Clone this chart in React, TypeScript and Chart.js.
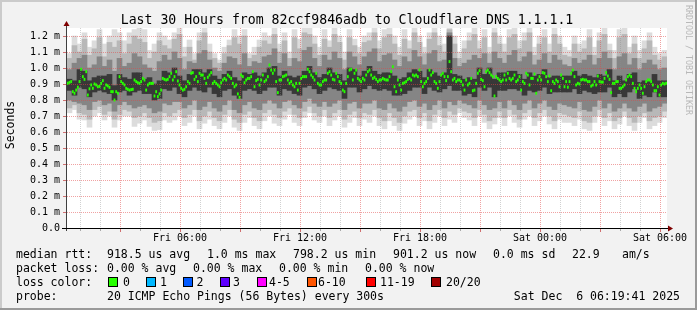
import React, { useEffect, useRef } from "react";
import { Chart, registerables } from "chart.js";

Chart.register(...registerables);

// ---------- texts ----------
const TITLE = "Last 30 Hours from 82ccf9846adb to Cloudflare DNS 1.1.1.1";
const Y_TITLE = "Seconds";
const WATERMARK = "RRDTOOL / TOBI OETIKER";

// ---------- time axis (hours from Fri 00:00) ----------
const START_HOUR = 0.35;
const END_HOUR = 30.35;
const SMOKE_STEP_HOURS = 0.25; // one smoke column per 15 minutes
const MEDIAN_STEP_HOURS = 1 / 12; // one median sample per 5 minutes (300 s)

const xTickHours = [6, 12, 18, 24, 30];
const xTickLabels = ["Fri 06:00", "Fri 12:00", "Fri 18:00", "Sat 00:00", "Sat 06:00"];

const Y_MAX = 1.25;
const yTickValues = [0, 0.1, 0.2, 0.3, 0.4, 0.5, 0.6, 0.7, 0.8, 0.9, 1.0, 1.1, 1.2];
const yTickLabels = ["0.0", "0.1 m", "0.2 m", "0.3 m", "0.4 m", "0.5 m", "0.6 m", "0.7 m", "0.8 m", "0.9 m", "1.0 m", "1.1 m", "1.2 m"];

// ---------- median rtt (ms), one value per 5-minute step ----------
const medianRtt = [
  0.904, 0.910, 0.915, 0.852, 0.842, 0.862, 0.880, 0.915, 0.992, 0.946,
  0.929, 0.977, 0.831, 0.870, 0.894, 0.873, 0.900, 0.894, 0.883, 0.885,
  0.904, 0.921, 0.873, 0.894, 0.888, 0.879, 0.852, 0.852, 0.800, 0.852,
  0.842, 0.946, 0.915, 0.904, 0.894, 0.873, 0.867, 0.862, 0.865, 0.867,
  0.925, 0.915, 0.908, 0.904, 0.915, 0.935, 0.925, 0.862, 0.894, 0.904,
  0.904, 0.904, 0.825, 0.852, 0.821, 0.838, 0.862, 0.935, 0.929, 0.925,
  0.929, 0.946, 0.967, 0.925, 0.946, 0.977, 0.919, 0.894, 0.873, 0.862,
  0.867, 0.883, 0.915, 0.904, 0.967, 0.971, 0.929, 0.946, 0.915, 0.967,
  0.956, 0.956, 0.935, 0.904, 0.942, 0.956, 0.971, 0.904, 0.915, 0.904,
  0.894, 0.883, 0.908, 0.925, 0.935, 0.925, 0.956, 0.946, 0.935, 0.904,
  0.883, 0.894, 0.838, 0.817, 0.956, 0.946, 0.908, 0.925, 0.935, 0.935,
  0.946, 0.977, 0.883, 0.921, 0.929, 0.894, 0.925, 0.956, 0.915, 0.925,
  0.946, 1.019, 0.987, 0.967, 0.987, 0.915, 0.846, 0.925, 0.925, 0.946,
  0.950, 0.956, 0.925, 0.904, 0.915, 0.894, 0.883, 0.904, 0.862, 0.904,
  0.935, 0.946, 0.946, 0.946, 0.992, 0.977, 0.956, 0.942, 0.925, 0.967,
  0.904, 0.894, 0.894, 0.915, 0.925, 0.925, 0.967, 0.977, 0.956, 0.929,
  0.925, 0.967, 0.946, 0.915, 0.904, 0.862, 0.852, 0.904, 0.946, 0.987,
  0.992, 0.925, 0.967, 0.987, 0.935, 0.925, 0.915, 0.935, 0.925, 0.956,
  0.977, 0.987, 0.956, 0.935, 0.942, 0.929, 0.915, 0.925, 0.925, 0.935,
  0.929, 0.925, 0.925, 0.946, 0.977, 1.008, 0.883, 0.852, 0.925, 0.894,
  0.862, 0.904, 0.908, 0.915, 0.929, 0.935, 0.925, 0.956, 0.950, 0.956,
  0.946, 0.987, 0.915, 0.883, 0.904, 0.915, 0.935, 0.987, 0.956, 0.971,
  0.915, 0.904, 0.873, 0.915, 0.956, 0.967, 0.946, 0.921, 0.946, 1.040,
  0.977, 0.925, 0.935, 0.915, 0.925, 0.925, 0.915, 0.894, 0.862, 0.925,
  0.894, 0.904, 0.935, 0.858, 0.862, 0.904, 0.967, 0.983, 0.929, 0.921,
  0.883, 0.977, 0.987, 0.971, 0.956, 0.946, 0.825, 0.946, 0.935, 0.925,
  0.915, 0.925, 0.956, 0.925, 0.967, 0.935, 0.925, 0.935, 0.956, 0.915,
  0.925, 0.946, 0.862, 0.915, 0.904, 0.967, 0.956, 0.894, 0.935, 0.935,
  0.962, 0.842, 0.925, 0.946, 0.925, 0.971, 0.967, 0.946, 0.915, 0.950,
  0.858, 0.915, 0.904, 0.925, 0.915, 0.883, 0.956, 0.935, 0.883, 0.915,
  0.880, 0.915, 0.967, 0.987, 0.946, 0.894, 0.904, 0.900, 0.925, 0.929,
  0.925, 0.925, 0.915, 0.915, 0.887, 0.894, 0.915, 0.894, 0.950, 0.915,
  0.912, 0.912, 0.935, 0.971, 0.950, 0.929, 0.846, 0.904, 0.904, 0.915,
  0.915, 0.873, 0.873, 0.883, 0.894, 0.925, 0.946, 0.956, 0.946, 0.904,
  0.873, 0.852, 0.873, 0.894, 0.873, 0.842, 0.883, 0.915, 0.925, 0.925,
  0.915, 0.894, 0.858, 0.858, 0.883, 0.831, 0.894, 0.904, 0.900, 0.904,
];

// ---------- smoke (ms), one value per 15-minute column ----------
const pingMax = [
  1.09, 1.20, 1.15, 1.22, 1.13, 1.17, 1.24, 1.15, 1.20, 1.24,
  1.22, 1.17, 1.22, 1.24, 1.26, 1.24, 1.11, 1.15, 1.22, 1.20,
  1.175, 1.22, 1.26, 1.13, 1.175, 1.09, 1.22, 1.26, 1.15, 1.09,
  1.05, 1.13, 1.175, 1.24, 1.20, 1.24, 1.09, 1.13, 1.175, 1.22,
  1.20, 1.26, 1.15, 1.22, 1.10, 1.24, 1.18, 1.26, 1.26, 1.20,
  1.13, 1.24, 1.17, 1.26, 1.20, 1.10, 1.24, 1.18, 1.13, 1.20,
  1.22, 1.26, 1.17, 1.24, 1.26, 1.20, 1.13, 1.24, 1.17, 1.26,
  1.20, 1.13, 1.22, 1.26, 1.20, 1.15, 1.26, 1.20, 1.10, 1.17,
  1.22, 1.26, 1.17, 1.24, 1.13, 1.26, 1.20, 1.15, 1.24, 1.26,
  1.17, 1.22, 1.26, 1.13, 1.20, 1.24, 1.15, 1.26, 1.20, 1.13,
  1.11, 1.20, 1.15, 1.17, 1.24, 1.13, 1.22, 1.26, 1.15, 1.11,
  1.24, 1.26, 1.13, 1.20, 1.11, 1.17, 1.22, 1.13, 1.09, 1.11,
];

const pingMin = [
  0.72, 0.74, 0.68, 0.675, 0.63, 0.70, 0.72, 0.675, 0.70, 0.63,
  0.675, 0.70, 0.70, 0.635, 0.655, 0.675, 0.635, 0.61, 0.615, 0.675,
  0.66, 0.675, 0.70, 0.64, 0.66, 0.70, 0.62, 0.655, 0.68, 0.64,
  0.62, 0.66, 0.70, 0.63, 0.61, 0.66, 0.69, 0.64, 0.62, 0.67,
  0.70, 0.655, 0.64, 0.68, 0.71, 0.66, 0.64, 0.69, 0.72, 0.675,
  0.66, 0.70, 0.64, 0.675, 0.70, 0.63, 0.66, 0.69, 0.64, 0.68,
  0.66, 0.70, 0.64, 0.62, 0.67, 0.64, 0.61, 0.655, 0.68, 0.70,
  0.64, 0.67, 0.62, 0.66, 0.70, 0.64, 0.68, 0.66, 0.72, 0.69,
  0.675, 0.64, 0.70, 0.66, 0.62, 0.65, 0.69, 0.64, 0.70, 0.66,
  0.63, 0.68, 0.70, 0.64, 0.67, 0.70, 0.65, 0.62, 0.68, 0.66,
  0.66, 0.64, 0.68, 0.62, 0.61, 0.66, 0.70, 0.64, 0.67, 0.62,
  0.65, 0.70, 0.64, 0.61, 0.66, 0.69, 0.62, 0.64, 0.66, 0.69,
];

const outerHi = [
  1.06, 1.14, 1.10, 1.18, 1.08, 1.12, 1.19, 1.07, 1.16, 1.13,
  1.17, 1.09, 1.15, 1.20, 1.18, 1.16, 1.06, 1.10, 1.17, 1.14,
  1.12, 1.18, 1.21, 1.07, 1.13, 1.05, 1.17, 1.22, 1.10, 1.06,
  1.03, 1.09, 1.14, 1.19, 1.15, 1.20, 1.06, 1.08, 1.13, 1.17,
  1.15, 1.21, 1.10, 1.17, 1.06, 1.19, 1.12, 1.22, 1.21, 1.15,
  1.08, 1.18, 1.13, 1.21, 1.16, 1.05, 1.19, 1.14, 1.09, 1.16,
  1.17, 1.22, 1.12, 1.19, 1.21, 1.15, 1.08, 1.18, 1.12, 1.22,
  1.16, 1.09, 1.18, 1.22, 1.14, 1.10, 1.24, 1.15, 1.06, 1.12,
  1.17, 1.21, 1.12, 1.19, 1.09, 1.22, 1.15, 1.10, 1.19, 1.21,
  1.12, 1.17, 1.22, 1.08, 1.15, 1.19, 1.10, 1.21, 1.15, 1.08,
  1.07, 1.15, 1.10, 1.12, 1.19, 1.08, 1.17, 1.21, 1.11, 1.06,
  1.19, 1.21, 1.09, 1.15, 1.06, 1.12, 1.17, 1.08, 1.05, 1.07,
];

const outerLo = [
  0.75, 0.77, 0.72, 0.71, 0.68, 0.74, 0.76, 0.71, 0.73, 0.68,
  0.71, 0.74, 0.73, 0.69, 0.70, 0.72, 0.69, 0.66, 0.67, 0.72,
  0.70, 0.72, 0.74, 0.69, 0.71, 0.74, 0.67, 0.70, 0.73, 0.69,
  0.67, 0.71, 0.74, 0.68, 0.66, 0.71, 0.73, 0.69, 0.67, 0.72,
  0.74, 0.71, 0.69, 0.73, 0.75, 0.71, 0.69, 0.73, 0.76, 0.72,
  0.70, 0.74, 0.69, 0.72, 0.74, 0.68, 0.71, 0.73, 0.69, 0.72,
  0.71, 0.74, 0.69, 0.67, 0.72, 0.69, 0.66, 0.70, 0.73, 0.74,
  0.69, 0.72, 0.67, 0.71, 0.74, 0.69, 0.73, 0.71, 0.75, 0.73,
  0.72, 0.69, 0.74, 0.71, 0.67, 0.69, 0.73, 0.69, 0.74, 0.71,
  0.68, 0.72, 0.74, 0.69, 0.72, 0.74, 0.70, 0.67, 0.72, 0.71,
  0.70, 0.69, 0.73, 0.67, 0.66, 0.70, 0.74, 0.69, 0.72, 0.67,
  0.69, 0.73, 0.69, 0.66, 0.70, 0.72, 0.67, 0.69, 0.70, 0.73,
];

const innerHi = [
  0.99, 1.03, 1.06, 1.08, 1.00, 1.02, 1.07, 1.01, 1.05, 0.98,
  1.06, 1.01, 1.03, 1.09, 1.07, 1.02, 1.00, 0.98, 1.04, 1.08,
  1.05, 1.10, 1.06, 0.99, 1.04, 1.03, 1.09, 1.11, 1.05, 1.00,
  0.98, 1.03, 1.07, 1.06, 1.02, 1.09, 1.01, 1.04, 1.03, 1.07,
  1.08, 1.12, 1.03, 1.09, 1.01, 1.06, 1.04, 1.11, 1.13, 1.06,
  1.01, 1.08, 1.05, 1.10, 1.06, 0.99, 1.10, 1.07, 1.02, 1.07,
  1.10, 1.12, 1.04, 1.08, 1.09, 1.05, 1.01, 1.07, 1.04, 1.11,
  1.07, 1.02, 1.09, 1.11, 1.04, 1.05, 1.22, 1.06, 1.01, 1.03,
  1.05, 1.08, 1.06, 1.09, 1.03, 1.10, 1.06, 1.03, 1.08, 1.11,
  1.04, 1.07, 1.10, 1.02, 1.05, 1.09, 1.03, 1.08, 1.05, 1.02,
  1.01, 1.06, 1.03, 1.05, 1.08, 1.02, 1.06, 1.10, 1.06, 0.99,
  1.07, 1.09, 1.02, 1.06, 0.99, 1.03, 1.05, 1.02, 0.99, 1.00,
];

const innerLo = [
  0.80, 0.79, 0.78, 0.77, 0.74, 0.79, 0.80, 0.77, 0.78, 0.73,
  0.77, 0.79, 0.77, 0.75, 0.76, 0.77, 0.75, 0.72, 0.73, 0.78,
  0.77, 0.79, 0.79, 0.75, 0.77, 0.80, 0.74, 0.76, 0.79, 0.75,
  0.73, 0.77, 0.80, 0.74, 0.72, 0.77, 0.79, 0.75, 0.74, 0.78,
  0.80, 0.78, 0.75, 0.79, 0.80, 0.77, 0.75, 0.79, 0.81, 0.78,
  0.76, 0.79, 0.76, 0.78, 0.80, 0.74, 0.78, 0.79, 0.75, 0.78,
  0.78, 0.80, 0.75, 0.74, 0.78, 0.75, 0.73, 0.76, 0.79, 0.80,
  0.76, 0.78, 0.74, 0.77, 0.80, 0.75, 0.79, 0.77, 0.80, 0.78,
  0.77, 0.75, 0.80, 0.77, 0.74, 0.75, 0.79, 0.75, 0.80, 0.77,
  0.74, 0.78, 0.80, 0.75, 0.78, 0.80, 0.76, 0.74, 0.78, 0.77,
  0.76, 0.75, 0.79, 0.74, 0.73, 0.76, 0.80, 0.75, 0.78, 0.73,
  0.75, 0.78, 0.75, 0.73, 0.76, 0.78, 0.73, 0.75, 0.76, 0.78,
];

const coreHi = [
  0.93, 0.92, 0.99, 0.98, 0.92, 0.94, 0.95, 0.95, 0.96, 0.89,
  0.96, 0.94, 0.93, 0.97, 0.97, 0.93, 0.94, 0.90, 0.92, 0.98,
  0.97, 1.00, 0.95, 0.92, 0.96, 0.99, 0.99, 0.97, 0.99, 0.95,
  0.93, 0.96, 0.98, 0.94, 0.92, 0.97, 0.96, 0.97, 0.95, 0.97,
  1.00, 1.01, 0.95, 0.98, 0.95, 0.94, 0.95, 0.98, 1.01, 0.97,
  0.94, 0.96, 1.00, 0.97, 0.96, 0.92, 1.00, 0.99, 0.95, 0.98,
  1.01, 0.98, 0.96, 0.97, 0.97, 0.95, 0.93, 0.94, 0.97, 0.99,
  0.98, 0.94, 0.99, 0.97, 0.95, 0.97, 1.20, 0.96, 0.95, 0.93,
  0.94, 0.93, 1.00, 0.96, 1.00, 0.93, 0.97, 0.97, 0.98, 0.98,
  0.96, 0.93, 0.97, 0.95, 0.96, 0.99, 0.94, 0.95, 0.95, 0.95,
  0.95, 0.98, 0.95, 0.96, 0.95, 0.94, 0.96, 0.95, 0.99, 0.92,
  0.95, 0.92, 0.96, 0.97, 0.91, 0.92, 0.92, 0.96, 0.92, 0.92,
];

const coreLo = [
  0.86, 0.83, 0.88, 0.87, 0.82, 0.85, 0.86, 0.85, 0.84, 0.80,
  0.85, 0.86, 0.83, 0.85, 0.86, 0.84, 0.84, 0.80, 0.81, 0.87,
  0.86, 0.88, 0.84, 0.82, 0.86, 0.88, 0.86, 0.85, 0.88, 0.84,
  0.82, 0.86, 0.87, 0.83, 0.81, 0.86, 0.87, 0.86, 0.84, 0.86,
  0.88, 0.88, 0.83, 0.87, 0.86, 0.84, 0.83, 0.88, 0.89, 0.87,
  0.84, 0.86, 0.88, 0.87, 0.86, 0.81, 0.88, 0.88, 0.85, 0.87,
  0.89, 0.87, 0.86, 0.87, 0.86, 0.83, 0.83, 0.84, 0.86, 0.88,
  0.88, 0.84, 0.88, 0.86, 0.85, 0.87, 0.89, 0.86, 0.86, 0.83,
  0.84, 0.82, 0.88, 0.86, 0.88, 0.82, 0.86, 0.86, 0.87, 0.87,
  0.86, 0.83, 0.86, 0.85, 0.86, 0.88, 0.84, 0.85, 0.85, 0.85,
  0.85, 0.87, 0.84, 0.86, 0.85, 0.84, 0.85, 0.85, 0.88, 0.82,
  0.84, 0.82, 0.85, 0.87, 0.81, 0.83, 0.82, 0.85, 0.82, 0.82,
];

// ---------- legend ----------
const rttLegend = ["median rtt:", "918.5 us avg", "1.0 ms max", "798.2 us min", "901.2 us now", "0.0 ms sd", "22.9", "am/s"];
const lossLegend = ["packet loss:", "0.00 % avg", "0.00 % max", "0.00 % min", "0.00 % now"];
const lossColorTitle = "loss color:";
const lossLabels = ["0", "1", "2", "3", "4-5", "6-10", "11-19", "20/20"];
const lossColors = ["#26ff00", "#00b8ff", "#0059ff", "#5e00ff", "#ff00ff", "#ff5500", "#ff0000", "#a10000"];
const probeLegend = ["probe:", "20 ICMP Echo Pings (56 Bytes) every 300s"];
const dateStamp = "Sat Dec  6 06:19:41 2025";

const MONO = '"DejaVu Sans Mono", "Liberation Mono", monospace';

function drawGrid(chart: any) {
  const { ctx, chartArea: a } = chart;
  const xs = chart.scales.x;
  const ys = chart.scales.y;
  ctx.save();
  ctx.beginPath();
  ctx.rect(a.left, a.top, a.right - a.left, a.bottom - a.top);
  ctx.clip();
  ctx.lineWidth = 1;
  ctx.setLineDash([1, 1]);
  for (let hr = Math.ceil(START_HOUR); hr <= END_HOUR; hr++) {
    const px = Math.round(xs.getPixelForValue(hr)) + 0.5;
    ctx.strokeStyle = hr % 3 === 0 ? "rgba(225,70,70,0.5)" : "rgba(140,140,140,0.4)";
    ctx.beginPath();
    ctx.moveTo(px, a.top);
    ctx.lineTo(px, a.bottom);
    ctx.stroke();
  }
  yTickValues.forEach((v) => {
    if (v <= 0) return;
    const py = Math.round(ys.getPixelForValue(v)) + 0.5;
    ctx.strokeStyle = "rgba(225,70,70,0.5)";
    ctx.beginPath();
    ctx.moveTo(a.left, py);
    ctx.lineTo(a.right, py);
    ctx.stroke();
  });
  ctx.restore();
}

const rrdPlugin = {
  id: "rrdLook",
  beforeDraw(chart: any) {
    const { ctx, width, height, chartArea: a } = chart;
    ctx.save();
    ctx.fillStyle = "#f2f2f2";
    ctx.fillRect(0, 0, width, height);
    ctx.fillStyle = "#cbcbcb";
    ctx.fillRect(0, 0, width, 2);
    ctx.fillRect(0, 0, 2, height);
    ctx.fillStyle = "#9a9a9a";
    ctx.fillRect(0, height - 2, width, 2);
    ctx.fillRect(width - 2, 0, 2, height);
    ctx.fillStyle = "#ffffff";
    ctx.fillRect(a.left, a.top, a.right - a.left, a.bottom - a.top);
    ctx.restore();
  },
  afterDatasetDraw(chart: any, args: any) {
    if (args.index === 3) drawGrid(chart);
  },
  afterDraw(chart: any) {
    const { ctx, chartArea: a } = chart;
    const xs = chart.scales.x;
    const ys = chart.scales.y;
    ctx.save();

    // tick marks
    ctx.lineWidth = 1;
    for (let hr = Math.ceil(START_HOUR); hr <= END_HOUR; hr++) {
      const px = Math.round(xs.getPixelForValue(hr)) + 0.5;
      ctx.strokeStyle = hr % 3 === 0 ? "#d07070" : "#aaaaaa";
      ctx.beginPath();
      ctx.moveTo(px, a.bottom + 1);
      ctx.lineTo(px, a.bottom + (hr % 3 === 0 ? 4 : 3));
      ctx.stroke();
    }
    yTickValues.forEach((v) => {
      if (v <= 0) return;
      const py = Math.round(ys.getPixelForValue(v)) + 0.5;
      ctx.strokeStyle = "#d07070";
      ctx.beginPath();
      ctx.moveTo(a.left - 4, py);
      ctx.lineTo(a.left - 1, py);
      ctx.stroke();
    });

    // axes
    ctx.strokeStyle = "#404040";
    ctx.beginPath();
    ctx.moveTo(a.left - 0.5, a.bottom + 3);
    ctx.lineTo(a.left - 0.5, a.top - 2);
    ctx.stroke();
    ctx.strokeStyle = "#000000";
    ctx.beginPath();
    ctx.moveTo(a.left - 5, a.bottom + 0.5);
    ctx.lineTo(a.right + 3, a.bottom + 0.5);
    ctx.stroke();
    // arrows
    ctx.fillStyle = "#7f0000";
    ctx.beginPath();
    ctx.moveTo(a.left - 3.5, a.top - 2);
    ctx.lineTo(a.left + 2.5, a.top - 2);
    ctx.lineTo(a.left - 0.5, a.top - 7);
    ctx.closePath();
    ctx.fill();
    ctx.beginPath();
    ctx.moveTo(a.right + 1, a.bottom - 2.5);
    ctx.lineTo(a.right + 1, a.bottom + 3.5);
    ctx.lineTo(a.right + 6, a.bottom + 0.5);
    ctx.closePath();
    ctx.fill();

    // title
    ctx.fillStyle = "#000000";
    ctx.font = `13.2px ${MONO}`;
    ctx.textAlign = "center";
    ctx.textBaseline = "alphabetic";
    ctx.fillText(TITLE, 347, 24);

    // y title
    ctx.save();
    ctx.translate(11, 125);
    ctx.rotate(-Math.PI / 2);
    ctx.font = `11.5px ${MONO}`;
    ctx.textAlign = "center";
    ctx.textBaseline = "middle";
    ctx.fillText(Y_TITLE, 0, 0);
    ctx.restore();

    // watermark
    ctx.save();
    ctx.translate(688, 60);
    ctx.rotate(Math.PI / 2);
    ctx.font = `8.3px ${MONO}`;
    ctx.fillStyle = "#b8b8b8";
    ctx.textAlign = "center";
    ctx.textBaseline = "middle";
    ctx.fillText(WATERMARK, 0, 0);
    ctx.restore();

    // legend
    ctx.font = `11.5px ${MONO}`;
    ctx.textAlign = "left";
    ctx.textBaseline = "alphabetic";
    ctx.fillStyle = "#000000";
    const rttX = [16, 107, 207, 293, 393, 493, 572, 622];
    rttLegend.forEach((t, i) => ctx.fillText(t, rttX[i], 258));
    const lossX = [16, 107, 193, 279, 365];
    lossLegend.forEach((t, i) => ctx.fillText(t, lossX[i], 272));
    ctx.fillText(lossColorTitle, 16, 286);
    const boxX = [108, 145.5, 182.5, 220, 256.5, 306.5, 365.5, 430.5];
    const labX = [123, 160, 196.5, 233, 269, 318, 380, 446];
    lossLabels.forEach((t, i) => {
      const bx = Math.round(boxX[i]) + 0.5;
      ctx.fillStyle = lossColors[i];
      ctx.fillRect(bx, 277.5, 9, 9);
      ctx.strokeStyle = "#000000";
      ctx.lineWidth = 1;
      ctx.strokeRect(bx, 277.5, 9, 9);
      ctx.fillStyle = "#000000";
      ctx.fillText(t, labX[i], 286);
    });
    ctx.fillText(probeLegend[0], 16, 300);
    ctx.fillText(probeLegend[1], 107, 300);
    ctx.textAlign = "right";
    ctx.fillText(dateStamp, 680, 300);

    ctx.restore();
  },
};

export default function App() {
  const ref = useRef<HTMLCanvasElement | null>(null);

  useEffect(() => {
    document.body.style.margin = "0";
    const canvas = ref.current;
    if (!canvas) return;

    const smokeX = (i: number) => START_HOUR + SMOKE_STEP_HOURS * (i + 0.5);
    const medX = (i: number) => START_HOUR + MEDIAN_STEP_HOURS * (i + 0.5);
    const band = (lo: number[], hi: number[]) => lo.map((v, i) => ({ x: smokeX(i), y: [v, hi[i]] }));

    const barCommon = {
      type: "bar" as const,
      borderWidth: 0,
      barPercentage: 1,
      categoryPercentage: 1,
      grouped: false,
      clip: 0,
    };

    const chart = new Chart(canvas, {
      type: "bar",
      data: {
        datasets: [
          { ...barCommon, label: "min-max", data: band(pingMin, pingMax) as any, backgroundColor: "#dcdcdc", order: 5 },
          { ...barCommon, label: "outer", data: band(outerLo, outerHi) as any, backgroundColor: "#b8b8b8", order: 4 },
          { ...barCommon, label: "inner", data: band(innerLo, innerHi) as any, backgroundColor: "#858585", order: 3 },
          { ...barCommon, label: "core", data: band(coreLo, coreHi) as any, backgroundColor: "#383838", order: 2 },
          {
            type: "line" as const,
            label: "median rtt",
            data: medianRtt.map((v, i) => ({ x: medX(i), y: v })) as any,
            showLine: false,
            pointStyle: "line",
            pointRadius: 0.9,
            pointHoverRadius: 0.9,
            pointBorderWidth: 3,
            pointBorderColor: "#26ff00",
            pointBackgroundColor: "#26ff00",
            clip: 0,
            order: 1,
          } as any,
        ],
      },
      options: {
        responsive: false,
        animation: false,
        devicePixelRatio: 1,
        events: [],
        layout: { padding: { left: 8, right: 30, top: 28, bottom: 62 } },
        plugins: { legend: { display: false }, tooltip: { enabled: false }, title: { display: false } },
        scales: {
          x: {
            type: "linear",
            min: START_HOUR,
            max: END_HOUR,
            offset: false,
            grid: { display: false, drawTicks: false },
            border: { display: false },
            afterBuildTicks: (s: any) => {
              s.ticks = xTickHours.map((v) => ({ value: v }));
            },
            afterFit: (s: any) => {
              s.height = 20;
              s.paddingLeft = 0;
              s.paddingRight = 0;
            },
            ticks: {
              autoSkip: false,
              maxRotation: 0,
              minRotation: 0,
              padding: 4,
              color: "#000000",
              font: { family: MONO, size: 10 },
              callback: (_v: any, i: number) => xTickLabels[i],
            },
          },
          y: {
            type: "linear",
            min: 0,
            max: Y_MAX,
            grid: { display: false, drawTicks: false },
            border: { display: false },
            afterBuildTicks: (s: any) => {
              s.ticks = yTickValues.map((v) => ({ value: v }));
            },
            afterFit: (s: any) => {
              s.width = 59;
              s.paddingTop = 0;
              s.paddingBottom = 0;
            },
            ticks: {
              autoSkip: false,
              padding: 7,
              color: "#000000",
              font: { family: MONO, size: 10 },
              callback: (_v: any, i: number) => yTickLabels[i],
            },
          },
        },
      } as any,
      plugins: [rrdPlugin],
    });

    return () => chart.destroy();
  }, []);

  return (
    <div style={{ width: 697, height: 310 }}>
      <canvas ref={ref} width={697} height={310} style={{ display: "block", width: 697, height: 310 }} />
    </div>
  );
}
